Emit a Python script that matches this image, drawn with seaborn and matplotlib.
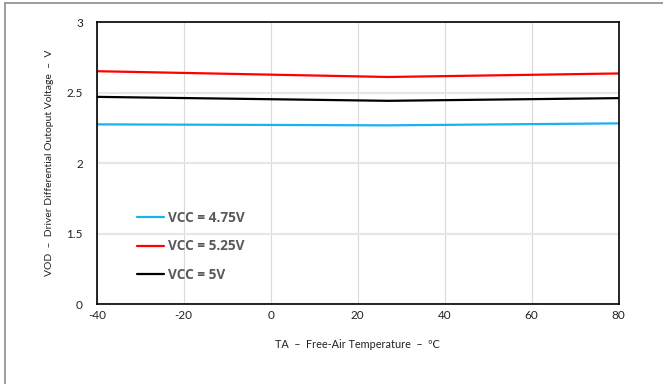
import numpy as np
import pandas as pd
import matplotlib
matplotlib.use("Agg")
import matplotlib.pyplot as plt
from matplotlib.lines import Line2D
import seaborn as sns

# data
temps = [-40, 27, 80]
vod_475 = [2.276, 2.269, 2.283]
vod_525 = [2.653, 2.612, 2.637]
vod_500 = [2.471, 2.443, 2.462]
series_labels = ["VCC = 4.75V", "VCC = 5.25V", "VCC = 5V"]
series_colors = ["#19B2EC", "#FF0000", "#000000"]

x_ticks = [-40, -20, 0, 20, 40, 60, 80]
y_ticks = [0, 1.5, 2, 2.5, 3]
y_tick_labels = ["0", "1.5", "2", "2.5", "3"]

df = pd.DataFrame({
    "temp": temps * 3,
    "vod": vod_475 + vod_525 + vod_500,
    "series": [series_labels[0]] * 3 + [series_labels[1]] * 3 + [series_labels[2]] * 3,
})

sns.set_style("white")
plt.rcParams["font.family"] = ["Lato", "DejaVu Sans"]

fig = plt.figure(figsize=(6.63, 3.84), dpi=100)
ax = fig.add_axes([0.146, 0.2076, 0.787, 0.7344])


# broken-looking y axis: 0..1.5 takes the same space as each 0.5 step above
def fwd(v):
    v = np.asarray(v, dtype=float)
    return np.where(v < 1.5, v / 1.5, 1 + (v - 1.5) / 0.5)


def inv(p):
    p = np.asarray(p, dtype=float)
    return np.where(p < 1, p * 1.5, 1.5 + (p - 1) * 0.5)


ax.set_yscale("function", functions=(fwd, inv))

sns.lineplot(data=df, x="temp", y="vod", hue="series", hue_order=series_labels,
             palette=series_colors, linewidth=1.6, ax=ax, legend=False)

ax.set_xlim(-40, 80)
ax.set_ylim(0, 3)
ax.set_xticks(x_ticks)
ax.set_xticklabels([str(t) for t in x_ticks])
ax.set_yticks(y_ticks)
ax.set_yticklabels(y_tick_labels)
ax.minorticks_off()
ax.tick_params(axis="both", length=0, labelsize=8.5, colors="#222222")
ax.tick_params(axis="x", pad=4)
ax.tick_params(axis="y", pad=10)

ax.grid(axis="x", color="#d9d9d9", linewidth=0.8)
ax.grid(axis="y", color="#e6e6e6", linewidth=1.5)
for s in ax.spines.values():
    s.set_color("#000000")
    s.set_linewidth(1.2)

ax.set_xlabel("TA  \u2013  Free-Air Temperature  \u2013  \u00baC", fontsize=7.8,
              color="#222222", labelpad=13)
ax.set_ylabel("VOD  \u2013  Driver Differential Outoput Voltage  \u2013  V", fontsize=7.5,
              color="#222222", labelpad=9)

handles = [Line2D([0], [0], color=c, linewidth=1.6) for c in series_colors]
leg = ax.legend(handles, series_labels, loc="center left", bbox_to_anchor=(0.077, 0.205),
                frameon=False, borderpad=0, borderaxespad=0, handlelength=1.95,
                handletextpad=0.3, labelspacing=1.05,
                prop={"family": "Open Sans", "weight": "bold", "size": 9.8})
for t in leg.get_texts():
    t.set_color("#595959")

# outer border of the original picture
fig.add_artist(Line2D([0.0075, 0.0075], [0, 0.992], color="#8c8c8c", linewidth=1.2,
                      transform=fig.transFigure))
fig.add_artist(Line2D([0.0075, 1], [0.992, 0.992], color="#8c8c8c", linewidth=1.2,
                      transform=fig.transFigure))

fig.savefig("out.png", dpi=100)
